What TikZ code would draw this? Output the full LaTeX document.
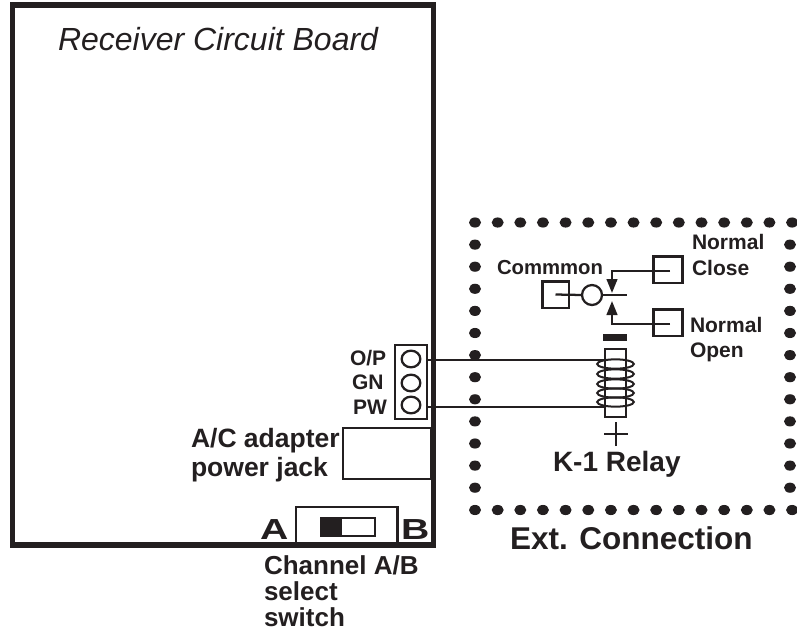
\documentclass[tikz,border=0pt]{standalone}
\usepackage{fontspec}
\setmainfont{Liberation Sans}
\usetikzlibrary{arrows.meta,shapes.geometric}
\definecolor{ink}{HTML}{231F20}
\newcommand{\fpx}[1]{\fontsize{\dimexpr#1pt*3/4\relax}{\dimexpr#1pt*3/4\relax}\selectfont}
\tikzset{
  every node/.style={outer sep=0pt},
  lab/.style={anchor=base west,inner sep=0pt,text=ink,font=\fpx{26}\bfseries},
  box/.style={draw=ink,line width=2pt,fill=white,inner sep=0pt,minimum width=#1},
  pin/.style={draw=ink,line width=1.7pt,ellipse,inner sep=0pt,minimum width=14pt,minimum height=12.5pt},
  wire/.style={draw=ink,line width=1.7pt},
  tip/.style={-{Triangle[length=10.5pt,width=8pt,fill=ink]},draw=ink,line width=1.7pt},
  dotm/.style={fill=ink,draw=none,ellipse,inner sep=0pt,minimum width=9pt,minimum height=7.6pt}
}
\begin{document}
\begin{tikzpicture}[x=0.75pt,y=-0.75pt]
\useasboundingbox (0,0) rectangle (797,633);
% board
\node[draw=ink,line width=4pt,inner sep=0pt,minimum width=315.75pt,minimum height=405pt,anchor=north west] (board) at (12.5,5) {};
\node[anchor=base west,inner sep=0pt,text=ink,font=\fpx{32}\itshape] (title) at (58,50) {Receiver Circuit Board};
% dotted enclosure
\foreach \i in {0,...,14} {
  \node[dotm] (t\i) at ({475+22.65*\i},222.5) {};
  \node[dotm] (b\i) at ({475+22.65*\i},510) {};
}
\foreach \i in {1,...,12} {
  \node[dotm] (l\i) at (475,{222.5+22.1*\i}) {};
  \node[dotm] (r\i) at (790,{222.5+22.1*\i}) {};
}
% header
\node[box=24pt,minimum height=55.5pt] (hdr) at (411,382) {};
\node[pin] (p1) at (411,359) {};
\node[pin] (p2) at (411,383) {};
\node[pin] (p3) at (411,405) {};
\node[lab,font=\fpx{21}\bfseries] (op) at (350,365) {O/P};
\node[lab,font=\fpx{21}\bfseries] (gn) at (352,389) {GN};
\node[lab,font=\fpx{21}\bfseries] (pw) at (353,414) {PW};
% jack
\node[box=66pt,minimum height=38.25pt] (jack) at (387,453.5) {};
\node[lab,font=\fpx{26.5}\bfseries] (jt1) at (191,447) {A/C adapter};
\node[lab,font=\fpx{26.5}\bfseries] (jt2) at (191,476) {power jack};
% switch
\node[box=76pt,minimum height=27pt] (sw) at (346.5,525) {};
\node[draw=ink,line width=2pt,fill=white,inner sep=0pt,minimum width=40.5pt,minimum height=13.5pt] (slide) at (348,527) {};
\node[fill=ink,inner sep=0pt,minimum width=16pt,minimum height=13.5pt,anchor=west] (knob) at (slide.west) {};
\node[anchor=base west,inner sep=0pt,text=ink,font=\fpx{29}\bfseries,xscale=1.35] (la) at (260,539) {A};
\node[anchor=base west,inner sep=0pt,text=ink,font=\fpx{29}\bfseries,xscale=1.35] (lb) at (401,539) {B};
\node[lab] (c1) at (264,574) {Channel A/B};
\node[lab] (c2) at (264,600) {select};
\node[lab] (c3) at (264,626) {switch};
% relay
\node[fill=ink,inner sep=0pt,minimum width=18pt,minimum height=5.25pt] (minus) at (615,337.5) {};
\node[box=15.75pt,minimum height=51pt] (coil) at (615.5,383) {};
\coordinate (w1) at (427,360);
\coordinate (w2) at (427,407);
\draw[wire] (w1) -- (coil.west |- w1);
\draw[wire] (w2) -- (coil.west |- w2);
\foreach \y [count=\n] in {364,374,384,393,402} {
  \node[draw=ink,line width=1.5pt,ellipse,inner sep=0pt,minimum width=27.5pt,minimum height=7pt] (turn\n) at (615.5,\y) {};
}
\draw[wire] (coil.west |- turn1.north) -- (coil.west |- turn5.south);
\draw[wire] (coil.east |- turn1.north) -- (coil.east |- turn5.south);
\node[inner sep=0pt,minimum size=0pt] (plus) at (616,434) {};
\draw[wire] ([xshift=-9pt]plus.center) -- ([xshift=9pt]plus.center);
\draw[wire] ([yshift=-9pt]plus.center) -- ([yshift=9pt]plus.center);
\node[lab,font=\fpx{28}\bfseries] (krel) at (553,471) {K-1 Relay};
\node[anchor=base west,inner sep=0pt,text=ink,font=\fpx{31.5}\bfseries] (ext) at (510,549) {Ext. Connection};
% contacts
\node[box=20pt,minimum height=20pt] (com) at (555.5,294.5) {};
\node[draw=ink,line width=1.7pt,circle,inner sep=0pt,minimum size=15pt] (ring) at (592,295) {};
\coordinate (cend) at (627,295);
\draw[wire] (com.center) -- (ring.west);
\draw[wire] (ring.east) -- (cend);
\node[box=22pt,minimum height=20pt] (nc) at (668,269.5) {};
\node[box=22pt,minimum height=20pt] (no) at (668,322.5) {};
\coordinate (ncs) at (670,271);
\coordinate (nos) at (670,324);
\coordinate (ncc) at (612,271);
\coordinate (noc) at (612,324);
\coordinate (nct) at (612,293);
\coordinate (not) at (612,301);
\draw[tip] (ncs) -- (ncc) -- (nct);
\draw[tip] (nos) -- (noc) -- (not);
\node[lab,font=\fpx{20.3}\bfseries] (cm) at (497,274) {Commmon};
\node[lab,font=\fpx{21}\bfseries] (n1) at (692,249) {Normal};
\node[lab,font=\fpx{21}\bfseries] (n2) at (692,275) {Close};
\node[lab,font=\fpx{21}\bfseries] (n3) at (690,332) {Normal};
\node[lab,font=\fpx{21}\bfseries] (n4) at (690,357) {Open};
\end{tikzpicture}
\end{document}
